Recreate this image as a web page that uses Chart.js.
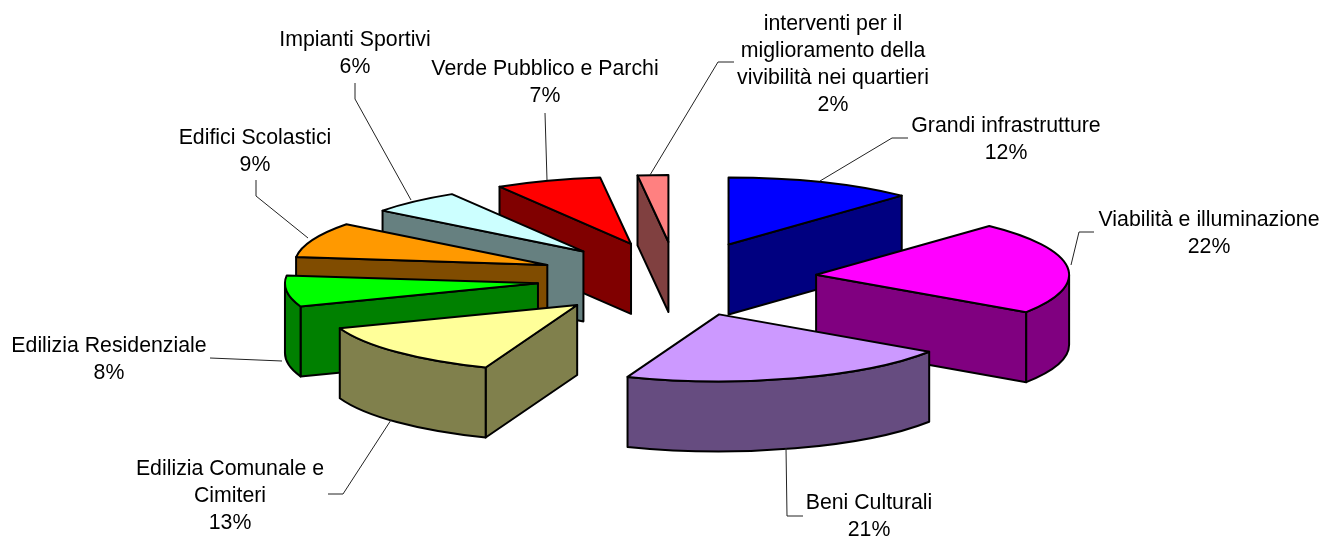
<!DOCTYPE html>
<html>
<head>
<meta charset="utf-8">
<title>Interventi</title>
<script src="https://cdn.jsdelivr.net/npm/chart.js@4"></script>
<style>
  html, body { margin: 0; padding: 0; background: #fff; }
  canvas { display: block; }
</style>
</head>
<body>
<canvas id="chart" width="1322" height="537"></canvas>
<script>
// categories, clockwise from 12 o'clock (arrays = wrapped lines in the label)
const categories = [
    ['Grandi infrastrutture'],
    ['Viabilità e illuminazione'],
    ['Beni Culturali'],
    ['Edilizia Comunale e', 'Cimiteri'],
    ['Edilizia Residenziale'],
    ['Edifici Scolastici'],
    ['Impianti Sportivi'],
    ['Verde Pubblico e Parchi'],
    ['interventi per il', 'miglioramento della', 'vivibilità nei quartieri']
];
// shares, they round to the printed percentages
const shares = [12, 22.4, 21.49, 13.49, 7.51, 8.51, 5.9, 6.75, 1.95];
const topColors = ['#0000FF', '#FF00FF', '#CC99FF', '#FFFF99', '#00FF00', '#FF9900', '#CCFFFF', '#FF0000', '#FF8080'];
const sideColors = ['#000080', '#800080', '#664C80', '#80804C', '#008000', '#804C00', '#668080', '#800000', '#804040'];

// where the labels sit: centre x and first line y, then the leader line
const labelPos = [[1006, 126], [1209, 220], [869, 503], [230, 469], [109, 346], [255, 138], [355, 40], [545, 69], [833, 24]];
const leaders = [
    [[908, 138], [892, 138], [820, 181]],
    [[1094, 232], [1079, 232], [1071, 265]],
    [[803, 516], [787, 516], [786, 448]],
    [[328, 494], [343, 494], [391, 420]],
    [[210, 358], [282, 361]],
    [[256, 180], [256, 196], [308, 238]],
    [[355, 83], [355, 99], [411, 200]],
    [[545, 113], [547, 180]],
    [[734, 62], [718, 62], [650, 175]]
];

const tilt = 0.265;
const depth = 70;
const lineHeight = 27;

// draws the pie as extruded slices, using the angles the library computed
const pie3d = {
    id: 'pie3d',
    beforeDatasetDraw(chart, args) {
        const ctx = chart.ctx;
        const arcs = args.meta.data;

        function place(el) {
            const mid = (el.startAngle + el.endAngle) / 2;
            const off = el.options.offset;
            return { x: el.x + Math.cos(mid) * off, y: el.y + Math.sin(mid) * off * tilt };
        }
        function corner(el, c, a) {
            return { x: c.x + Math.cos(a) * el.outerRadius, y: c.y + Math.sin(a) * el.outerRadius * tilt };
        }
        function wall(el, c, a, color) {
            const p = corner(el, c, a);
            ctx.beginPath();
            ctx.moveTo(c.x, c.y);
            ctx.lineTo(p.x, p.y);
            ctx.lineTo(p.x, p.y + depth);
            ctx.lineTo(c.x, c.y + depth);
            ctx.closePath();
            ctx.fillStyle = color;
            ctx.fill();
            ctx.stroke();
        }

        // back to front
        const order = arcs.map((el, i) => i).sort((a, b) => {
            const ma = (arcs[a].startAngle + arcs[a].endAngle) / 2;
            const mb = (arcs[b].startAngle + arcs[b].endAngle) / 2;
            return Math.sin(ma) - Math.sin(mb);
        });

        ctx.save();
        ctx.strokeStyle = '#000';
        ctx.lineWidth = 2;
        ctx.lineJoin = 'round';
        order.forEach(i => {
            const el = arcs[i];
            const c = place(el);
            const r = el.outerRadius;

            if (Math.cos(el.startAngle) < 0) wall(el, c, el.startAngle, sideColors[i]);
            if (Math.cos(el.endAngle) > 0) wall(el, c, el.endAngle, sideColors[i]);

            // rim, only the part turned to the viewer
            const lo = Math.max(el.startAngle, 0);
            const hi = Math.min(el.endAngle, Math.PI);
            if (lo < hi) {
                ctx.beginPath();
                ctx.ellipse(c.x, c.y, r, r * tilt, 0, lo, hi);
                ctx.ellipse(c.x, c.y + depth, r, r * tilt, 0, hi, lo, true);
                ctx.closePath();
                ctx.fillStyle = sideColors[i];
                ctx.fill();
                ctx.stroke();
            }

            // top face
            ctx.beginPath();
            ctx.moveTo(c.x, c.y);
            ctx.ellipse(c.x, c.y, r, r * tilt, 0, el.startAngle, el.endAngle);
            ctx.closePath();
            ctx.fillStyle = topColors[i];
            ctx.fill();
            ctx.stroke();
        });
        ctx.restore();
        return false;
    },
    afterDraw(chart) {
        const ctx = chart.ctx;
        const total = shares.reduce((a, b) => a + b, 0);
        ctx.save();
        ctx.strokeStyle = '#222';
        ctx.lineWidth = 1;
        leaders.forEach(line => {
            ctx.beginPath();
            line.forEach((p, i) => i ? ctx.lineTo(p[0], p[1]) : ctx.moveTo(p[0], p[1]));
            ctx.stroke();
        });
        ctx.fillStyle = '#000';
        ctx.font = '21.3px "Liberation Sans"';
        ctx.textAlign = 'center';
        ctx.textBaseline = 'middle';
        categories.forEach((lines, i) => {
            const all = lines.concat(Math.round(shares[i] / total * 100) + '%');
            all.forEach((t, j) => ctx.fillText(t, labelPos[i][0], labelPos[i][1] + j * lineHeight));
        });
        ctx.restore();
    }
};

new Chart(document.querySelector('#chart').getContext('2d'), {
    type: 'pie',
    data: {
        labels: categories,
        datasets: [{
            data: shares,
            backgroundColor: topColors,
            radius: 253,
            offset: 140
        }]
    },
    options: {
        responsive: false,
        animation: false,
        layout: { padding: { left: 32, top: 21 } },
        plugins: { legend: { display: false }, tooltip: { enabled: false } }
    },
    plugins: [pie3d]
});
</script>
</body>
</html>
